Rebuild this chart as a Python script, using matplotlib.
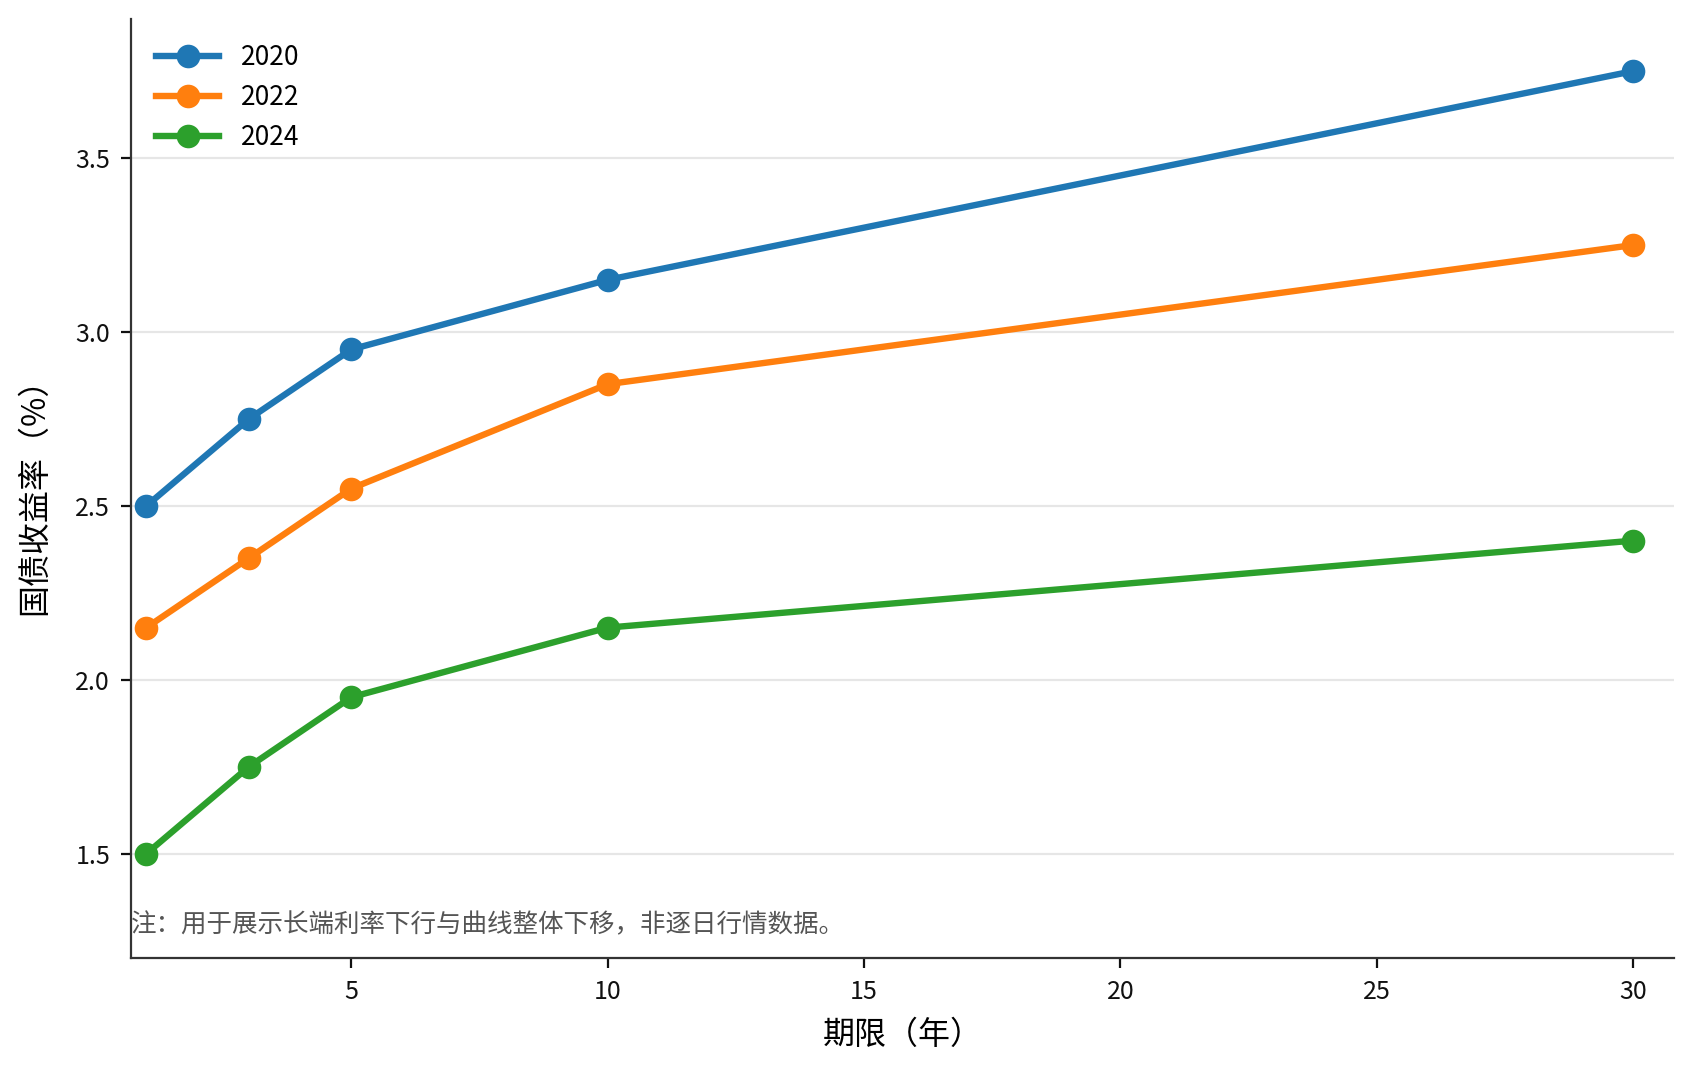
import numpy as np
import matplotlib
matplotlib.use("Agg")
import matplotlib.pyplot as plt

plt.rcParams.update({
    "font.family": ["Noto Sans CJK SC", "DejaVu Sans"],
    "font.size": 9,
    "axes.unicode_minus": False,
})

tenors = [1, 3, 5, 10, 30]
years = ["2020", "2022", "2024"]
y2020 = [2.50, 2.75, 2.95, 3.15, 3.75]
y2022 = [2.15, 2.35, 2.55, 2.85, 3.25]
y2024 = [1.50, 1.75, 1.95, 2.15, 2.40]
colors = ["#1f77b4", "#ff7f0e", "#2ca02c"]

fig = plt.figure(figsize=(8.465, 5.35), dpi=200)
ax = fig.add_axes([131 / 1693, 1 - 958 / 1070, (1674 - 131) / 1693, (958 - 19) / 1070])

for name, vals, c in zip(years, [y2020, y2022, y2024], colors):
    ax.plot(tenors, vals, marker="o", lw=2.3, ms=7.5, color=c, label=name)

ax.set_xlim(0.7, 30.8)
ax.set_ylim(1.2, 3.9)
ax.set_yticks([1.5, 2.0, 2.5, 3.0, 3.5])
ax.set_xticks([5, 10, 15, 20, 25, 30])
ax.grid(axis="y", color="#e6e6e6", lw=0.8)
ax.set_axisbelow(True)
for s in ["top", "right"]:
    ax.spines[s].set_visible(False)
for s in ["left", "bottom"]:
    ax.spines[s].set_color("#333333")
ax.tick_params(colors="#111111", labelsize=9, pad=4)

ax.set_xlabel("期限（年）", fontsize=11.5, labelpad=5)
ax.set_ylabel("国债收益率（%）", fontsize=11.5, labelpad=9)
ax.legend(loc="upper left", frameon=False, fontsize=9.5, handlelength=2.4,
          borderaxespad=0.55, labelspacing=0.5)
ax.text(0.0, 0.035, "注：用于展示长端利率下行与曲线整体下移，非逐日行情数据。",
        transform=ax.transAxes, fontsize=9.2, color="#555555", va="center")

fig.savefig("out.png", dpi=200)
